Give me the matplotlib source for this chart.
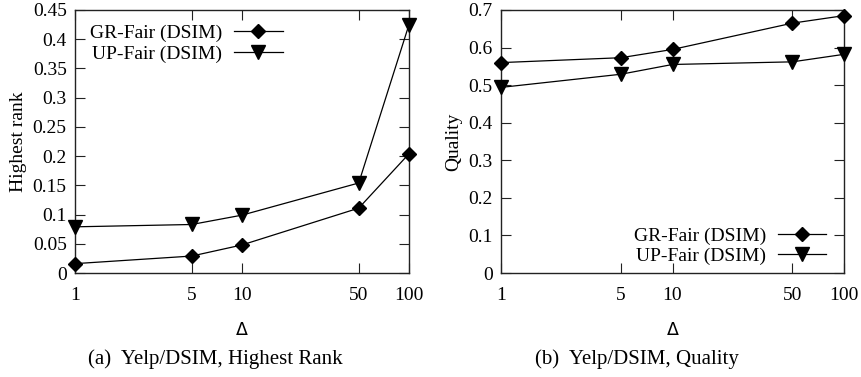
import matplotlib
matplotlib.use("Agg")
import matplotlib.pyplot as plt
from matplotlib.ticker import FixedLocator, FuncFormatter, NullLocator

plt.rcParams['font.family'] = ['Liberation Serif', 'DejaVu Serif']

delta = [1, 5, 10, 50, 100]

rank_gr = [0.016, 0.029, 0.048, 0.111, 0.204]
rank_up = [0.079, 0.083, 0.099, 0.154, 0.425]

quality_gr = [0.560, 0.573, 0.595, 0.665, 0.685]
quality_up = [0.494, 0.529, 0.555, 0.562, 0.582]

series_names = ['GR-Fair (DSIM)', 'UP-Fair (DSIM)']
captions = ['(a)  Yelp/DSIM, Highest Rank', '(b)  Yelp/DSIM, Quality']
ylabels = ['Highest rank', 'Quality']

W, H = 861, 377
fig = plt.figure(figsize=(W / 100, H / 100), dpi=100)

def px_axes(x0, x1, ytop, ybot):
    return fig.add_axes([x0 / W, (H - ybot) / H, (x1 - x0) / W, (ybot - ytop) / H])

ax1 = px_axes(75, 409, 10, 273)
ax2 = px_axes(501, 844, 10, 273)

FS = 14

def style(ax, ymax, ystep, ylabel):
    ax.set_xscale('log')
    ax.set_xlim(1, 100)
    ax.set_ylim(0, ymax)
    ax.xaxis.set_major_locator(FixedLocator(delta))
    ax.xaxis.set_major_formatter(FuncFormatter(lambda v, p: '%g' % v))
    ax.xaxis.set_minor_locator(NullLocator())
    n = int(round(ymax / ystep))
    ax.yaxis.set_major_locator(FixedLocator([i * ystep for i in range(n + 1)]))
    ax.yaxis.set_major_formatter(FuncFormatter(lambda v, p: '%g' % round(v, 3)))
    ax.tick_params(direction='in', length=7, width=0.8, top=True, right=True,
                   labelsize=FS, colors='#222222', labelcolor='black')
    ax.tick_params(axis='x', pad=10)
    ax.tick_params(axis='y', pad=6)
    for s in ax.spines.values():
        s.set_linewidth(1.0)
        s.set_color('#222222')
    ax.set_ylabel(ylabel, fontsize=FS, labelpad=4)
    ax.set_xlabel('Δ', fontsize=12.5, family=['DejaVu Sans'], labelpad=12)

lw = 0.9
ax1.plot(delta, rank_gr, color='black', lw=lw, marker='D', ms=7.5, label=series_names[0], clip_on=False, zorder=3)
ax1.plot(delta, rank_up, color='black', lw=lw, marker='v', ms=10, label=series_names[1], clip_on=False, zorder=3)
style(ax1, 0.45, 0.05, ylabels[0])

ax2.plot(delta, quality_gr, color='black', lw=lw, marker='D', ms=7.5, label=series_names[0], clip_on=False, zorder=3)
ax2.plot(delta, quality_up, color='black', lw=lw, marker='v', ms=10, label=series_names[1], clip_on=False, zorder=3)
style(ax2, 0.7, 0.1, ylabels[1])

leg_kw = dict(frameon=False, markerfirst=False, fontsize=FS, handlelength=2.5,
              handletextpad=0.6, labelspacing=0.15, borderpad=0, borderaxespad=0)
ax1.legend(loc='upper left', bbox_to_anchor=(0.045, 0.945), **leg_kw)
ax2.legend(loc='lower right', bbox_to_anchor=(0.948, 0.03), **leg_kw)

fig.text(215 / W, 1 - 359 / H, captions[0], ha='center', va='center', fontsize=15)
fig.text(637 / W, 1 - 359 / H, captions[1], ha='center', va='center', fontsize=15)

fig.savefig('out.png', dpi=100)
